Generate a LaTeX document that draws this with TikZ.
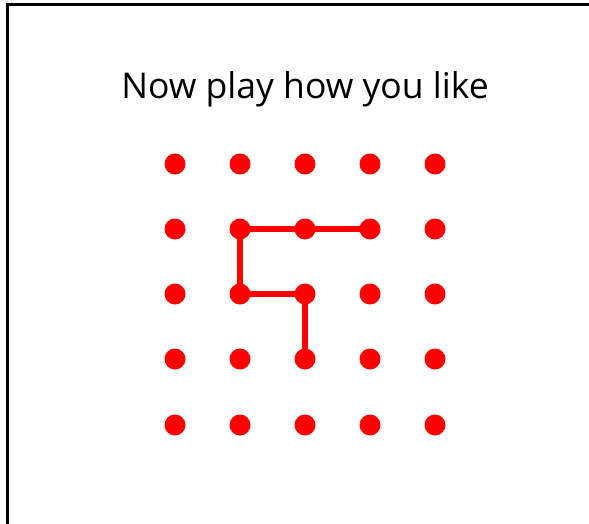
\documentclass[tikz,border=0pt]{standalone}
\usepackage{fontspec}
\setmainfont{Open Sans}
\begin{document}
\begin{tikzpicture}[x=1pt,y=-1pt,
  dot/.style={circle,fill=red,inner sep=0pt,minimum size=21pt},
  link/.style={draw=red,line width=5.5pt}]
\useasboundingbox (0,0) rectangle (589,524);
\coordinate (fbl) at (7,524);
\coordinate (ftl) at (7,5);
\coordinate (ftr) at (589,5);
\draw[line width=3pt,line cap=rect] (fbl) -- (ftl) -- (ftr);
\node[anchor=base,font=\fontsize{35.5}{42}\selectfont,inner sep=0pt] (title) at (305,99) {Now play how you like};
\foreach \i/\x in {1/175,2/240,3/305,4/370,5/435}
  \foreach \j/\y in {1/164,2/229,3/294,4/359,5/425}
    \coordinate (c-\i-\j) at (\x,\y);
\draw[link] (c-2-2) -- (c-4-2);
\draw[link] (c-2-2) -- (c-2-3) -- (c-3-3) -- (c-3-4);
\foreach \i in {1,...,5}
  \foreach \j in {1,...,5}
    \node[dot] (d-\i-\j) at (c-\i-\j) {};
\end{tikzpicture}
\end{document}
